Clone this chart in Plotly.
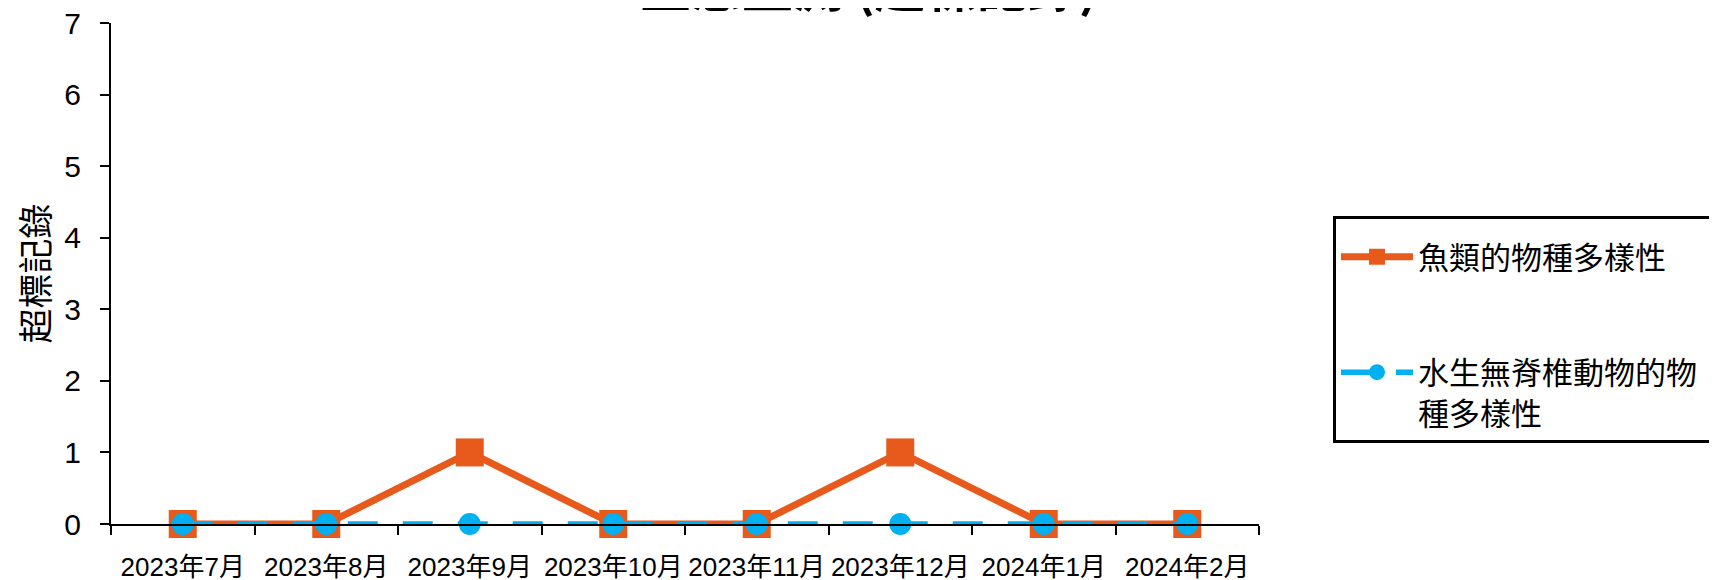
import plotly.graph_objects as go

months = ["2023年7月", "2023年8月", "2023年9月", "2023年10月", "2023年11月",
          "2023年12月", "2024年1月", "2024年2月"]
fish = [0, 0, 1, 0, 0, 1, 0, 0]
invert = [0, 0, 0, 0, 0, 0, 0, 0]
fish_name = "魚類的物種多樣性"
invert_name = "水生無脊椎動物的物<br>種多樣性"
title_text = "生態監測 (超標記錄)"
y_title = "超標記錄"

ORANGE = "#E85A1C"
BLUE = "#00B0F0"
FONT = "Liberation Sans, Arial, Noto Sans CJK TC, sans-serif"
CJK = "Noto Sans CJK TC, sans-serif"

L, R, T, B = 102.6, 466, 15, 63.5
PW = 1717 - L - R
PH = 580 - T - B

fig = go.Figure()
fig.add_trace(go.Scatter(
    x=months, y=fish, name=fish_name + "\u00a0" * 14, mode="lines+markers",
    line=dict(color=ORANGE, width=7),
    marker=dict(symbol="square", size=28, color=ORANGE),
    cliponaxis=False, legendgroup="a"))
fig.add_trace(go.Scatter(
    x=months, y=invert, name=invert_name, mode="lines+markers",
    line=dict(color=BLUE, width=5.5, dash="30px,25px"),
    marker=dict(symbol="circle", size=22, color=BLUE),
    cliponaxis=False, legendgroup="b"))

fig.update_layout(
    width=1717, height=580,
    margin=dict(l=L, r=R, t=T, b=B, autoexpand=False),
    paper_bgcolor="white", plot_bgcolor="white",
    font=dict(family=FONT, color="black"),
    showlegend=True,
    legend=dict(x=(1325 - L) / PW, y=(516.5 - 207.7) / PH,
                xanchor="left", yanchor="top",
                bordercolor="black", borderwidth=3, bgcolor="white",
                font=dict(size=31, family=CJK),
                title=dict(text="\u00a0", font=dict(size=9)),
                itemwidth=72, tracegroupgap=72, valign="top"),
    xaxis=dict(type="category", range=[-0.5, 7.5], showline=True,
               linecolor="black", linewidth=1.5, ticks="outside",
               tickson="boundaries", ticklen=9, tickcolor="black",
               tickwidth=1.5, showgrid=False, zeroline=False,
               tickangle=0,
               tickfont=dict(size=26, family=FONT),
               ticklabelstandoff=19),
    yaxis=dict(range=[0, 7], dtick=1, showline=True, linecolor="black",
               linewidth=2, ticks="outside", ticklen=9, tickcolor="black",
               tickwidth=2, showgrid=False, zeroline=False,
               ticklabeloverflow="allow",
               tickfont=dict(size=30, family=FONT),
               ticklabelstandoff=13,
               title=dict(text=y_title, font=dict(size=35, family=CJK),
                          standoff=26)),
    annotations=[dict(text="<b>" + title_text + "</b>", xref="paper", yref="paper",
                      x=(861 - L) / PW, y=(516.5 + 23) / PH,
                      xanchor="center", yanchor="middle", showarrow=False,
                      font=dict(size=51, family=CJK))],
)

fig.write_html("out.html")
